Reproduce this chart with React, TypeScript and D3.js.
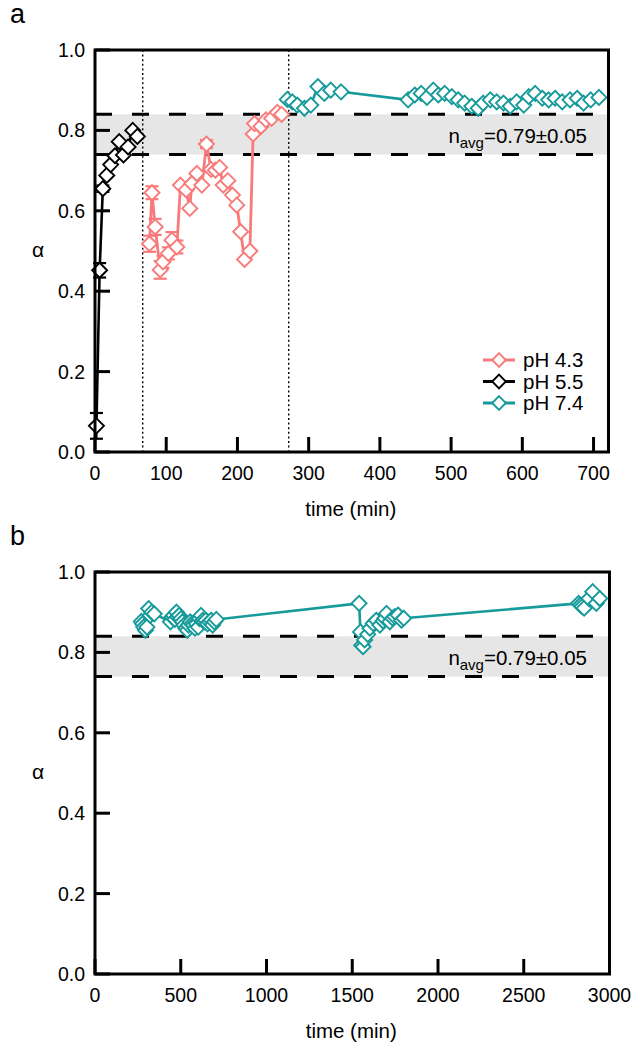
import React from 'react';
import * as d3 from 'd3';

// ---------- data ----------
const pH55Time = [2, 6.5, 11, 16.5, 22, 28, 34, 40, 46.5, 53, 59.5];
const pH55Alpha = [0.065, 0.452, 0.655, 0.688, 0.715, 0.737, 0.772, 0.739, 0.759, 0.8, 0.785];
const pH55Err = [0.032, 0.018, 0.008, 0, 0, 0, 0, 0, 0, 0, 0];

const pH43Time = [76.5, 80, 84.5, 91.5, 95.5, 103, 108, 115, 120, 128, 133, 136, 143, 150, 156.5, 163, 169, 175, 180, 186.5, 193, 199, 204.5, 210, 217.5, 222, 224, 233, 240, 248, 256, 262];
const pH43Alpha = [0.518, 0.645, 0.56, 0.453, 0.473, 0.494, 0.527, 0.51, 0.664, 0.652, 0.606, 0.668, 0.693, 0.664, 0.766, 0.703, 0.701, 0.708, 0.664, 0.675, 0.639, 0.614, 0.548, 0.479, 0.5, 0.791, 0.817, 0.81, 0.826, 0.83, 0.845, 0.84];
const pH43Err = [0.02, 0.016, 0.02, 0.022, 0.015, 0.015, 0.02, 0.016, 0, 0, 0, 0, 0, 0, 0.01, 0, 0, 0, 0, 0, 0, 0, 0, 0, 0, 0, 0, 0, 0, 0, 0, 0];

const pH74Time = [270, 277, 284, 294, 303, 313, 322, 331, 345.5, 439.6, 449, 458, 466, 475, 482, 491, 501, 510, 519, 529, 538, 545, 555, 564, 573.6, 583, 592, 602, 609, 618, 628, 637, 646, 656, 667, 677, 686, 696, 707.6];
const pH74Alpha = [0.877, 0.871, 0.863, 0.855, 0.863, 0.909, 0.892, 0.9, 0.896, 0.876, 0.888, 0.892, 0.882, 0.9, 0.888, 0.892, 0.884, 0.876, 0.868, 0.86, 0.855, 0.868, 0.876, 0.871, 0.868, 0.86, 0.871, 0.863, 0.884, 0.892, 0.88, 0.876, 0.88, 0.871, 0.876, 0.88, 0.868, 0.876, 0.882];

const longTime = [1540, 1548, 1555, 1563, 1572, 1590, 1603, 1622, 1640, 1661, 1680, 1690, 1700, 1719, 1735, 1748, 1767, 1787, 1800, 2820, 2830, 2840, 2852, 2880, 2902, 2923, 2943];
const longAlpha = [0.922, 0.851, 0.818, 0.814, 0.831, 0.845, 0.86, 0.872, 0.88, 0.868, 0.878, 0.885, 0.897, 0.876, 0.885, 0.889, 0.893, 0.88, 0.885, 0.922, 0.918, 0.914, 0.91, 0.934, 0.951, 0.922, 0.934];

const yTicks = [0, 0.2, 0.4, 0.6, 0.8, 1.0];
const xTicksA = [0, 100, 200, 300, 400, 500, 600, 700];
const xTicksB = [0, 500, 1000, 1500, 2000, 2500, 3000];
const bandLow = 0.74;
const bandHigh = 0.84;
const dividerTimes = [67, 272];
const legendLabels = ['pH 4.3', 'pH 5.5', 'pH 7.4'];

// ---------- styles ----------
const PINK = '#f87a7a';
const BLACK = '#000000';
const TEAL = '#179a9a';
const FONT = '"Liberation Sans", Arial, Helvetica, sans-serif';

type Series = { t: number[]; a: number[]; e?: number[]; color: string; lw: number };

const diamond = (x: number, y: number, r: number) =>
  `M${x},${y - r}L${x + r},${y}L${x},${y + r}L${x - r},${y}Z`;

function Panel({
  top, xDomain, xRange, xTicks, series, dividers, legend, letter,
}: {
  top: number; xDomain: [number, number]; xRange: [number, number]; xTicks: number[];
  series: Series[]; dividers?: number[]; legend?: boolean; letter: string;
}) {
  const bottom = top + 402;
  const x = d3.scaleLinear().domain(xDomain).range(xRange);
  const y = d3.scaleLinear().domain([0, 1]).range([bottom, top]);
  const [x0, x1] = xRange;
  const line = d3.line<[number, number]>().x((d) => x(d[0])).y((d) => y(d[1]));
  const R = 7.5;
  const tickLen = 15;
  return (
    <g>
      <text x={10} y={top - 27} fontSize={27} fontFamily={FONT}>{letter}</text>
      {/* band */}
      <rect x={x0} y={y(bandHigh)} width={x1 - x0} height={y(bandLow) - y(bandHigh)} fill="#e6e6e6" />
      {[bandLow, bandHigh].map((v) => (
        <line key={v} x1={x0} x2={x1} y1={y(v)} y2={y(v)} stroke="#000" strokeWidth={3} strokeDasharray="17,20" />
      ))}
      <text x={587} y={y(0.79) + 9} fontSize={20.5} fontFamily={FONT} textAnchor="end">
        n<tspan fontSize={15} dy={5}>avg</tspan><tspan dy={-5}>=0.79±0.05</tspan>
      </text>
      {(dividers || []).map((d) => (
        <line key={d} x1={x(d)} x2={x(d)} y1={top} y2={bottom} stroke="#000" strokeWidth={1.4} strokeDasharray="2,2.6" />
      ))}
      {/* series */}
      {series.map((s, si) => {
        const pts = s.t.map((t, i) => [t, s.a[i]] as [number, number]);
        return (
          <g key={si}>
            <path d={line(pts) || ''} fill="none" stroke={s.color} strokeWidth={s.lw} strokeLinejoin="round" />
            {s.e && pts.map((p, i) => s.e![i] > 0 ? (
              <g key={i} stroke={s.color} strokeWidth={2.2}>
                <line x1={x(p[0])} x2={x(p[0])} y1={y(p[1] - s.e![i])} y2={y(p[1] + s.e![i])} />
                <line x1={x(p[0]) - 6.5} x2={x(p[0]) + 6.5} y1={y(p[1] - s.e![i])} y2={y(p[1] - s.e![i])} />
                <line x1={x(p[0]) - 6.5} x2={x(p[0]) + 6.5} y1={y(p[1] + s.e![i])} y2={y(p[1] + s.e![i])} />
              </g>
            ) : null)}
            {pts.map((p, i) => (
              <path key={i} d={diamond(x(p[0]), y(p[1]), R)} fill="#fff" stroke={s.color} strokeWidth={1.9} />
            ))}
          </g>
        );
      })}
      {/* frame */}
      <rect x={x0} y={top} width={x1 - x0} height={bottom - top} fill="none" stroke="#000" strokeWidth={3} />
      {/* ticks */}
      {yTicks.map((v) => (
        <g key={v}>
          <line x1={x0} x2={x0 + tickLen} y1={y(v)} y2={y(v)} stroke="#000" strokeWidth={3} />
          <text x={85} y={y(v)} dy="0.36em" textAnchor="end" fontSize={19.5} fontFamily={FONT}>{v.toFixed(1)}</text>
        </g>
      ))}
      {xTicks.map((v) => (
        <g key={v}>
          <line x1={x(v)} x2={x(v)} y1={bottom} y2={bottom - tickLen} stroke="#000" strokeWidth={3} />
          <text x={x(v)} y={bottom + 28} textAnchor="middle" fontSize={19.5} fontFamily={FONT}>{v}</text>
        </g>
      ))}
      <text x={(x0 + x1) / 2 - 1} y={bottom + 64} textAnchor="middle" fontSize={20.5} fontFamily={FONT}>time (min)</text>
      <text x={38} y={(top + bottom) / 2 + 6} textAnchor="middle" fontSize={21} fontFamily={FONT}>α</text>
      {legend && legendLabels.map((lab, i) => {
        const cy = 360 + i * 21.5;
        const c = [PINK, BLACK, TEAL][i];
        return (
          <g key={lab}>
            <line x1={483} x2={515} y1={cy} y2={cy} stroke={c} strokeWidth={3} />
            <path d={diamond(499, cy, 6.8)} fill="#fff" stroke={c} strokeWidth={1.9} />
            <text x={523} y={cy} dy="0.36em" fontSize={20.5} fontFamily={FONT}>{lab}</text>
          </g>
        );
      })}
    </g>
  );
}

export default function App() {
  const seriesA: Series[] = [
    { t: pH55Time, a: pH55Alpha, e: pH55Err, color: BLACK, lw: 2.6 },
    { t: pH43Time, a: pH43Alpha, e: pH43Err, color: PINK, lw: 2.8 },
    { t: pH74Time, a: pH74Alpha, color: TEAL, lw: 2.6 },
  ];
  const seriesB: Series[] = [
    { t: pH74Time.concat(longTime), a: pH74Alpha.concat(longAlpha), color: TEAL, lw: 2.6 },
  ];
  return (
    <>
      <style>{`body{margin:0}`}</style>
      <svg width={636} height={1050} style={{ display: 'block', background: '#fff' }}>
        <Panel top={50} xDomain={[0, 721]} xRange={[95, 608.5]} xTicks={xTicksA} series={seriesA} dividers={dividerTimes} legend letter="a" />
        <Panel top={572} xDomain={[0, 3000]} xRange={[95, 609.5]} xTicks={xTicksB} series={seriesB} letter="b" />
      </svg>
    </>
  );
}
